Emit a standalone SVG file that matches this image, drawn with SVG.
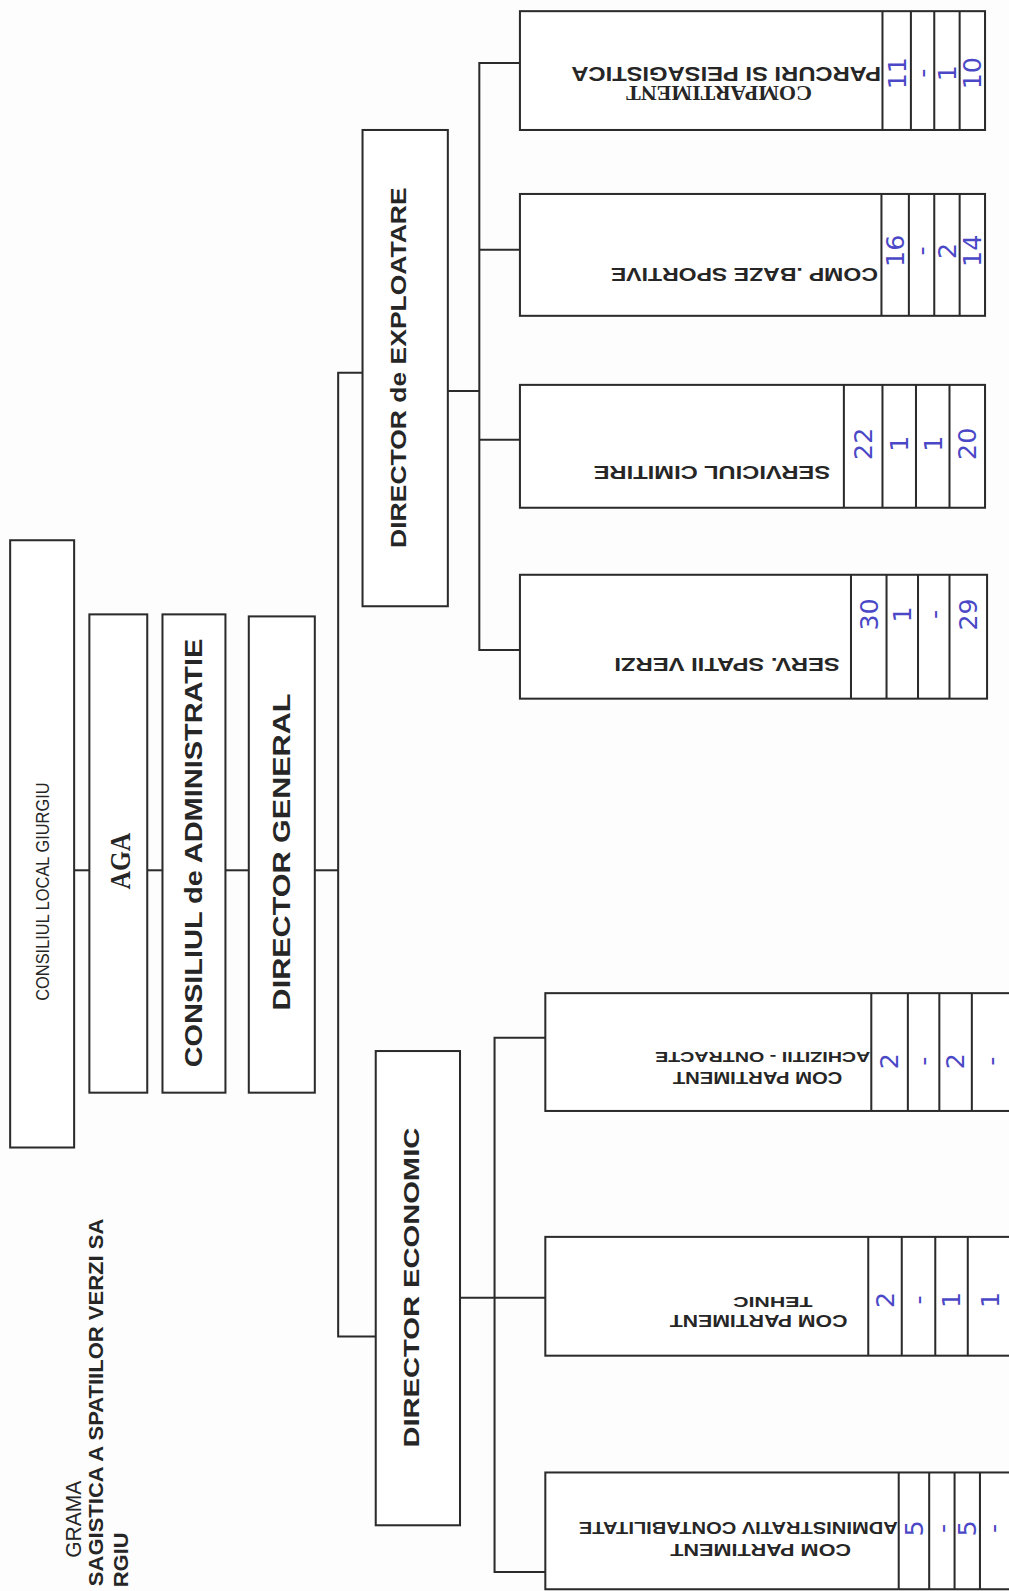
<svg xmlns="http://www.w3.org/2000/svg" width="1009" height="1591" viewBox="0 0 1009 1591">
<style>
.box{fill:#ffffff;stroke:#2b2b2b;stroke-width:2}
.div{stroke:#2b2b2b;stroke-width:2;fill:none}
.con{stroke:#2b2b2b;stroke-width:2;fill:none}
.t{font-family:"Liberation Sans",Arial,sans-serif;fill:#262626;text-anchor:middle}
.b{font-weight:bold}
.s{font-family:"Liberation Serif","Times New Roman",serif;font-weight:bold}
.n{font-family:"DejaVu Sans","Liberation Sans",sans-serif;fill:#4a48c6;text-anchor:middle;font-size:25px}
</style>
<rect width="1009" height="1591" fill="#fdfdfd"/>
<g transform="scale(1.0155)">
<g id="title">
<text class="t" font-size="21" transform="rotate(-90 72 1496)" x="72" y="1496" dy="0.35em" textLength="76" lengthAdjust="spacingAndGlyphs">GRAMA</text>
<text class="t b" font-size="19" transform="rotate(-90 95 1381)" x="95" y="1381" dy="0.35em" textLength="362" lengthAdjust="spacingAndGlyphs">SAGISTICA A SPATIILOR VERZI SA</text>
<text class="t b" font-size="19" transform="rotate(-90 119 1536)" x="119" y="1536" dy="0.35em" textLength="54" lengthAdjust="spacingAndGlyphs">RGIU</text>
</g>

<g id="connectors">
<line class="con" x1="73" y1="857" x2="88" y2="857"/>
<line class="con" x1="145" y1="857" x2="160" y2="857"/>
<line class="con" x1="222" y1="857" x2="245" y2="857"/>
<line class="con" x1="310" y1="857" x2="333" y2="857"/>
<polyline class="con" points="357,367 333,367 333,1316 370,1316"/>
<line class="con" x1="441" y1="385" x2="472" y2="385"/>
<polyline class="con" points="512,62 472,62 472,640 512,640"/>
<line class="con" x1="472" y1="246" x2="512" y2="246"/>
<line class="con" x1="472" y1="433" x2="512" y2="433"/>
<line class="con" x1="453" y1="1278" x2="487" y2="1278"/>
<polyline class="con" points="537,1022 487,1022 487,1548 537,1548"/>
<line class="con" x1="487" y1="1278" x2="540" y2="1278"/>
</g>

<g id="consiliul-local">
<rect class="box" x="10" y="532" width="63" height="598"/>
<text class="t" font-size="18" transform="rotate(-90 42 878)" x="42" y="878" dy="0.35em" textLength="215" lengthAdjust="spacingAndGlyphs">CONSILIUL  LOCAL  GIURGIU</text>
</g>

<g id="aga">
<rect class="box" x="88" y="605" width="57" height="471"/>
<text class="t s" font-size="28" transform="rotate(-90 118 848)" x="118" y="848" dy="0.35em" textLength="56" lengthAdjust="spacingAndGlyphs">AGA</text>
</g>

<g id="consiliul-administratie">
<rect class="box" x="160" y="605" width="62" height="471"/>
<text class="t b" font-size="24" transform="rotate(-90 191 840)" x="191" y="840" dy="0.35em" textLength="422" lengthAdjust="spacingAndGlyphs">CONSILIUL de ADMINISTRATIE</text>
</g>

<g id="director-general">
<rect class="box" x="245" y="607" width="65" height="469"/>
<text class="t b" font-size="24" transform="rotate(-90 277 839)" x="277" y="839" dy="0.35em" textLength="312" lengthAdjust="spacingAndGlyphs">DIRECTOR  GENERAL</text>
</g>

<g id="director-exploatare">
<rect class="box" x="357" y="128" width="84" height="469"/>
<text class="t b" font-size="21" transform="rotate(-90 392 362)" x="392" y="362" dy="0.35em" textLength="355" lengthAdjust="spacingAndGlyphs">DIRECTOR  de EXPLOATARE</text>
</g>

<g id="director-economic">
<rect class="box" x="370" y="1035" width="83" height="467"/>
<text class="t b" font-size="21" transform="rotate(-90 405 1268)" x="405" y="1268" dy="0.35em" textLength="315" lengthAdjust="spacingAndGlyphs">DIRECTOR  ECONOMIC</text>
</g>

<g id="comp-parcuri">
<rect class="box" x="512" y="11" width="458" height="117"/>
<path class="div" d="M869 11V128M897 11V128M920 11V128M945 11V128"/>
<text class="t s" font-size="21" transform="rotate(180 708 92)" x="708" y="92" dy="0.35em" textLength="183" lengthAdjust="spacingAndGlyphs">COMPARTIMENT</text>
<text class="t b" font-size="19" transform="rotate(180 715 73)" x="715" y="73" dy="0.35em" textLength="305" lengthAdjust="spacingAndGlyphs">PARCURI SI PEISAGISTICA</text>
<text class="n" transform="rotate(-90 883 72)" x="883" y="72" dy="0.35em">11</text>
<text class="n" transform="rotate(-90 908.5 72)" x="908.5" y="72" dy="0.35em">-</text>
<text class="n" transform="rotate(-90 932.5 72)" x="932.5" y="72" dy="0.35em">1</text>
<text class="n" transform="rotate(-90 957.5 72)" x="957.5" y="72" dy="0.35em">10</text>
</g>

<g id="comp-baze">
<rect class="box" x="512" y="191" width="458" height="120"/>
<path class="div" d="M868 191V311M895 191V311M920 191V311M945 191V311"/>
<text class="t b" font-size="18" transform="rotate(180 733 270)" x="733" y="270" dy="0.35em" textLength="263" lengthAdjust="spacingAndGlyphs">COMP .BAZE SPORTIVE</text>
<text class="n" transform="rotate(-90 881.5 247)" x="881.5" y="247" dy="0.35em">16</text>
<text class="n" transform="rotate(-90 907.5 247)" x="907.5" y="247" dy="0.35em">-</text>
<text class="n" transform="rotate(-90 932.5 247)" x="932.5" y="247" dy="0.35em">2</text>
<text class="n" transform="rotate(-90 957.5 247)" x="957.5" y="247" dy="0.35em">14</text>
</g>

<g id="serviciul-cimitire">
<rect class="box" x="512" y="379" width="458" height="121"/>
<path class="div" d="M831 379V500M869 379V500M902 379V500M935 379V500"/>
<text class="t b" font-size="18" transform="rotate(180 701 465)" x="701" y="465" dy="0.35em" textLength="233" lengthAdjust="spacingAndGlyphs">SERVICIUL CIMITIRE</text>
<text class="n" transform="rotate(-90 850 437)" x="850" y="437" dy="0.35em">22</text>
<text class="n" transform="rotate(-90 885.5 437)" x="885.5" y="437" dy="0.35em">1</text>
<text class="n" transform="rotate(-90 918.5 437)" x="918.5" y="437" dy="0.35em">1</text>
<text class="n" transform="rotate(-90 952.5 437)" x="952.5" y="437" dy="0.35em">20</text>
</g>

<g id="serv-spatii-verzi">
<rect class="box" x="512" y="566" width="460" height="122"/>
<path class="div" d="M838 566V688M873 566V688M904 566V688M935 566V688"/>
<text class="t b" font-size="18" transform="rotate(180 716 654)" x="716" y="654" dy="0.35em" textLength="222" lengthAdjust="spacingAndGlyphs">SERV. SPATII VERZI</text>
<text class="n" transform="rotate(-90 855.5 605)" x="855.5" y="605" dy="0.35em">30</text>
<text class="n" transform="rotate(-90 888.5 605)" x="888.5" y="605" dy="0.35em">1</text>
<text class="n" transform="rotate(-90 919.5 605)" x="919.5" y="605" dy="0.35em">-</text>
<text class="n" transform="rotate(-90 953.5 605)" x="953.5" y="605" dy="0.35em">29</text>
</g>

<g id="comp-achizitii">
<rect class="box" x="537" y="978" width="480" height="116"/>
<path class="div" d="M858 978V1094M894 978V1094M925 978V1094M957 978V1094"/>
<text class="t b" font-size="16" transform="rotate(180 746 1061)" x="746" y="1061" dy="0.35em" textLength="167" lengthAdjust="spacingAndGlyphs">COM PARTIMENT</text>
<text class="t b" font-size="15" transform="rotate(180 751 1041)" x="751" y="1041" dy="0.35em" textLength="212" lengthAdjust="spacingAndGlyphs">ACHIZITII - ONTRACTE</text>
<text class="n" transform="rotate(-90 876 1045)" x="876" y="1045" dy="0.35em">2</text>
<text class="n" transform="rotate(-90 909.5 1045)" x="909.5" y="1045" dy="0.35em">-</text>
<text class="n" transform="rotate(-90 941 1045)" x="941" y="1045" dy="0.35em">2</text>
<text class="n" transform="rotate(-90 976 1045)" x="976" y="1045" dy="0.35em">-</text>
</g>

<g id="comp-tehnic">
<rect class="box" x="537" y="1218" width="480" height="117"/>
<path class="div" d="M855 1218V1335M888 1218V1335M921 1218V1335M953 1218V1335"/>
<text class="t b" font-size="16" transform="rotate(180 747 1301)" x="747" y="1301" dy="0.35em" textLength="175" lengthAdjust="spacingAndGlyphs">COM PARTIMENT</text>
<text class="t b" font-size="14" transform="rotate(180 761 1282)" x="761" y="1282" dy="0.35em" textLength="78" lengthAdjust="spacingAndGlyphs">TEHNIC</text>
<text class="n" transform="rotate(-90 871.5 1280)" x="871.5" y="1280" dy="0.35em">2</text>
<text class="n" transform="rotate(-90 904.5 1280)" x="904.5" y="1280" dy="0.35em">-</text>
<text class="n" transform="rotate(-90 937 1280)" x="937" y="1280" dy="0.35em">1</text>
<text class="n" transform="rotate(-90 975 1280)" x="975" y="1280" dy="0.35em">1</text>
</g>

<g id="comp-administrativ">
<rect class="box" x="537" y="1450" width="480" height="115"/>
<path class="div" d="M885 1450V1565M915 1450V1565M940 1450V1565M965 1450V1565"/>
<text class="t b" font-size="16" transform="rotate(180 749 1526)" x="749" y="1526" dy="0.35em" textLength="178" lengthAdjust="spacingAndGlyphs">COM PARTIMENT</text>
<text class="t b" font-size="16" transform="rotate(180 727 1504)" x="727" y="1504" dy="0.35em" textLength="314" lengthAdjust="spacingAndGlyphs">ADMINISTRATIV CONTABILITATE</text>
<text class="n" transform="rotate(-90 900 1505)" x="900" y="1505" dy="0.35em">5</text>
<text class="n" transform="rotate(-90 927.5 1505)" x="927.5" y="1505" dy="0.35em">-</text>
<text class="n" transform="rotate(-90 952.5 1505)" x="952.5" y="1505" dy="0.35em">5</text>
<text class="n" transform="rotate(-90 978 1505)" x="978" y="1505" dy="0.35em">-</text>
</g>
</g>
</svg>
